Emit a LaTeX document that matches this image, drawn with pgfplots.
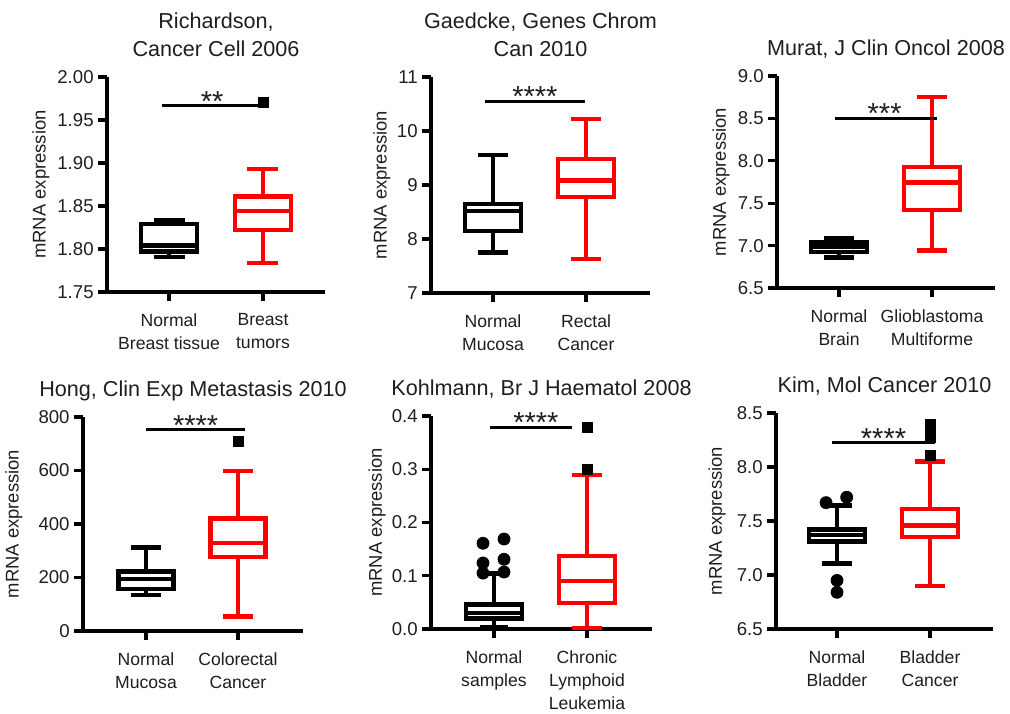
\documentclass[border=0pt]{standalone}
\usepackage{fontspec}
\setmainfont{Liberation Sans}
\usepackage{pgfplots}
\pgfplotsset{compat=1.18}
\usepgfplotslibrary{statistics}
\definecolor{txt}{RGB}{30,30,30}
\definecolor{bred}{RGB}{255,0,0}
\tikzset{stars/.style={font=\fontsize{14.5}{14}\selectfont, anchor=base, inner sep=0pt, yshift=-2.7pt, text=txt}}
\pgfplotsset{
  gp/.style={
    scale only axis, clip=false, anchor=south west,
    boxplot/draw direction=y,
    axis x line*=bottom, axis y line*=left,
    axis line style={line width=1.6pt, -, black},
    tick style={line width=1.6pt, black},
    tick align=outside, major tick length=4.5pt,
    xtick={1,2},
    xticklabel style={font=\fontsize{8.8}{11.7}\selectfont, align=center, anchor=north, inner sep=0pt, yshift=-6pt, text=txt},
    yticklabel style={font=\fontsize{9.3}{10}\selectfont, anchor=east, inner sep=0pt, xshift=-2pt, text=txt},
    every axis title/.style={font=\fontsize{10.8}{14}\selectfont, align=center, anchor=south, inner sep=0pt, text depth=0pt, at={(0.5,1)}, yshift=10pt, text=txt},
    ylabel={mRNA expression},
  },
  yl/.style={every axis y label/.style={at={(axis description cs:#1,0.5)}, rotate=90, anchor=north, inner sep=0pt, font=\fontsize{9.2}{10}\selectfont, text=txt}},
  nbox/.style={black, line width=2.2pt, solid},
  cbox/.style={bred, line width=2.2pt, solid},
  out/.style={only marks, mark=square*, mark size=2.5pt, black},
  cir/.style={only marks, mark=*, mark size=3pt, black},
  sig/.style={black, line width=1.6pt},
}
\begin{document}
\begin{tikzpicture}
\path[use as bounding box] (0,0) rectangle (505pt,-356.5pt);

% Panel 1
\begin{axis}[gp, yl=-0.344, at={(53.5pt,-146pt)}, width=109pt, height=107.5pt,
  xmin=0.34, xmax=2.66, ymin=1.75, ymax=2.00,
  ytick={1.75,1.80,1.85,1.90,1.95,2.00}, yticklabels={1.75,1.80,1.85,1.90,1.95,2.00},
  xticklabels={{Normal\\Breast tissue},{Breast\\tumors}},
  title={Richardson,\\Cancer Cell 2006}]
\addplot[nbox, boxplot prepared={draw position=1, lower whisker=1.791, lower quartile=1.797, median=1.804, upper quartile=1.829, upper whisker=1.834, box extend=0.6, whisker extend=0.33}] coordinates {};
\addplot[cbox, boxplot prepared={draw position=2, lower whisker=1.784, lower quartile=1.822, median=1.8445, upper quartile=1.861, upper whisker=1.893, box extend=0.6, whisker extend=0.33}] coordinates {};
\addplot[sig] coordinates {(0.926,1.9666) (2.0,1.9666)};
\addplot[out] coordinates {(2,1.970)};
\node[stars] at (axis cs:1.46,1.9666) {**};
\end{axis}

% Panel 2
\begin{axis}[gp, yl=-0.265, at={(215.5pt,-146.5pt)}, width=109.5pt, height=108pt,
  xmin=0.333, xmax=2.688, ymin=7, ymax=11,
  ytick={7,8,9,10,11}, yticklabels={7,8,9,10,11},
  xticklabels={{Normal\\Mucosa},{Rectal\\Cancer}},
  title={Gaedcke, Genes Chrom\\Can 2010}]
\addplot[nbox, boxplot prepared={draw position=1, lower whisker=7.75, lower quartile=8.15, median=8.517, upper quartile=8.647, upper whisker=9.557, box extend=0.6, whisker extend=0.33}] coordinates {};
\addplot[cbox, boxplot prepared={draw position=2, lower whisker=7.625, lower quartile=8.783, median=9.087, upper quartile=9.477, upper whisker=10.226, box extend=0.6, whisker extend=0.33}] coordinates {};
\addplot[sig] coordinates {(0.914,10.548) (1.989,10.548)};
\node[stars] at (axis cs:1.45,10.548) {****};
\end{axis}

% Panel 3
\begin{axis}[gp, yl=-0.298, at={(388.5pt,-144pt)}, width=109pt, height=106pt,
  xmin=0.333, xmax=2.677, ymin=6.5, ymax=9.0,
  ytick={6.5,7.0,7.5,8.0,8.5,9.0}, yticklabels={6.5,7.0,7.5,8.0,8.5,9.0},
  xticklabels={{Normal\\Brain},{Glioblastoma\\Multiforme}},
  title={Murat, J Clin Oncol 2008}]
\addplot[nbox, boxplot prepared={draw position=1, lower whisker=6.86, lower quartile=6.925, median=6.99, upper quartile=7.046, upper whisker=7.085, box extend=0.6, whisker extend=0.33}] coordinates {};
\addplot[cbox, boxplot prepared={draw position=2, lower whisker=6.94, lower quartile=7.42, median=7.744, upper quartile=7.93, upper whisker=8.749, box extend=0.6, whisker extend=0.33}] coordinates {};
\addplot[sig] coordinates {(0.957,8.50) (2.054,8.50)};
\node[stars] at (axis cs:1.49,8.50) {***};
\end{axis}

% Panel 4
\begin{axis}[gp, yl=-0.355, at={(41.5pt,-315.5pt)}, width=110pt, height=107pt,
  xmin=0.315, xmax=2.707, ymin=0, ymax=800,
  ytick={0,200,400,600,800}, yticklabels={0,200,400,600,800},
  xticklabels={{Normal\\Mucosa},{Colorectal\\Cancer}},
  title={Hong, Clin Exp Metastasis 2010}]
\addplot[nbox, boxplot prepared={draw position=1, lower whisker=134, lower quartile=158, median=195, upper quartile=222, upper whisker=312, box extend=0.6, whisker extend=0.33}] coordinates {};
\addplot[cbox, boxplot prepared={draw position=2, lower whisker=55, lower quartile=277, median=330, upper quartile=421, upper whisker=599, box extend=0.6, whisker extend=0.33}] coordinates {};
\addplot[sig] coordinates {(1.0,752) (2.076,752)};
\addplot[out] coordinates {(2,709)};
\node[stars] at (axis cs:1.54,752) {****};
\end{axis}

% Panel 5
\begin{axis}[gp, yl=-0.285, at={(215.5pt,-314.5pt)}, width=110.5pt, height=106.5pt,
  xmin=0.323, xmax=2.699, ymin=0, ymax=0.4,
  ytick={0,0.1,0.2,0.3,0.4}, yticklabels={0.0,0.1,0.2,0.3,0.4},
  xticklabels={{Normal\\samples},{Chronic\\Lymphoid\\Leukemia}},
  title={Kohlmann, Br J Haematol 2008}]
\addplot[nbox, boxplot prepared={draw position=1, lower whisker=0.0025, lower quartile=0.020, median=0.030, upper quartile=0.046, upper whisker=0.104, box extend=0.6, whisker extend=0.3}] coordinates {};
\addplot[cbox, boxplot prepared={draw position=2, lower whisker=0.002, lower quartile=0.049, median=0.090, upper quartile=0.137, upper whisker=0.289, box extend=0.6, whisker extend=0.33}] coordinates {};
\addplot[cir] coordinates {(0.882,0.105) (0.882,0.124) (0.882,0.161) (1.108,0.107) (1.108,0.131) (1.108,0.169)};
\addplot[sig] coordinates {(0.957,0.379) (1.839,0.379)};
\addplot[out] coordinates {(2,0.379) (2,0.299)};
\node[stars] at (axis cs:1.45,0.379) {****};
\end{axis}

% Panel 6
\begin{axis}[gp, yl=-0.313, at={(388pt,-314.5pt)}, width=108.5pt, height=108pt,
  xmin=0.344, xmax=2.677, ymin=6.5, ymax=8.5,
  ytick={6.5,7.0,7.5,8.0,8.5}, yticklabels={6.5,7.0,7.5,8.0,8.5},
  xticklabels={{Normal\\Bladder},{Bladder\\Cancer}},
  title={Kim, Mol Cancer 2010}]
\addplot[nbox, boxplot prepared={draw position=1, lower whisker=7.107, lower quartile=7.31, median=7.37, upper quartile=7.42, upper whisker=7.645, box extend=0.6, whisker extend=0.33}] coordinates {};
\addplot[cbox, boxplot prepared={draw position=2, lower whisker=6.90, lower quartile=7.35, median=7.46, upper quartile=7.61, upper whisker=8.05, box extend=0.6, whisker extend=0.33}] coordinates {};
\addplot[cir] coordinates {(0.882,7.67) (1.104,7.72) (1.0,6.95) (1.0,6.84)};
\addplot[sig] coordinates {(0.946,8.225) (2.054,8.225)};
\addplot[out] coordinates {(2,8.39) (2,8.35) (2,8.31) (2,8.27) (2,8.11)};
\node[stars] at (axis cs:1.50,8.225) {****};
\end{axis}
\end{tikzpicture}
\end{document}
